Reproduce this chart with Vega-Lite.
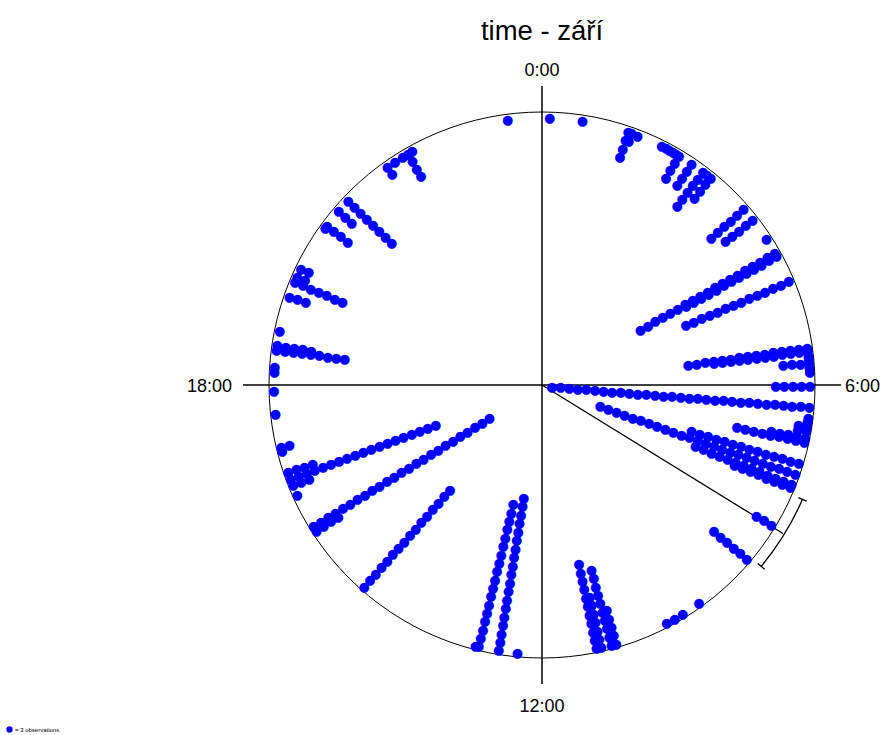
{
  "$schema": "https://vega.github.io/schema/vega-lite/v6.json",
  "width": 600,
  "height": 600,
  "autosize": {"type": "none"},
  "padding": {"left": 242, "top": 85, "right": 45, "bottom": 50},
  "background": "white",
  "title": {"text": "time - září", "fontSize": 27.5, "font": "Liberation Sans", "fontWeight": "normal", "anchor": "middle", "offset": 17, "color": "black"},
  "config": {"view": {"stroke": null}},
  "layer": [
    {
      "data": {"values": [{"a": 0, "b": 24}]},
      "mark": {"type": "arc", "filled": false, "stroke": "black", "strokeWidth": 1, "radius": 273},
      "encoding": {
        "theta": {"field": "a", "type": "quantitative", "stack": null, "scale": {"type": "linear", "domain": [0, 24], "range": [0, 6.283185307179586], "zero": false}},
        "theta2": {"field": "b"}
      }
    },
    {
      "data": {"values": [{"h": 0}, {"h": 6}, {"h": 12}, {"h": 18}]},
      "mark": {"type": "arc", "filled": false, "stroke": "black", "strokeWidth": 1, "radius": 299, "radius2": 0},
      "encoding": {
        "theta": {"field": "h", "type": "quantitative", "stack": null, "scale": {"type": "linear", "domain": [0, 24], "range": [0, 6.283185307179586], "zero": false}},
        "theta2": {"field": "h"}
      }
    },
    {
      "data": {"values": [{"mean": 8.11}]},
      "mark": {"type": "arc", "filled": false, "stroke": "black", "strokeWidth": 1.3, "radius": 283, "radius2": 0},
      "encoding": {
        "theta": {"field": "mean", "type": "quantitative", "stack": null, "scale": {"type": "linear", "domain": [0, 24], "range": [0, 6.283185307179586], "zero": false}},
        "theta2": {"field": "mean"}
      }
    },
    {
      "data": {"values": [{"lo": 7.58, "hi": 8.64}]},
      "mark": {"type": "arc", "filled": false, "stroke": "black", "strokeWidth": 1.3, "radius": 284.5, "radius2": 284.5},
      "encoding": {
        "theta": {"field": "lo", "type": "quantitative", "stack": null, "scale": {"type": "linear", "domain": [0, 24], "range": [0, 6.283185307179586], "zero": false}},
        "theta2": {"field": "hi"}
      }
    },
    {
      "data": {"values": [{"end": 7.58}, {"end": 8.64}]},
      "mark": {"type": "arc", "filled": false, "stroke": "black", "strokeWidth": 1.3, "radius": 289, "radius2": 280},
      "encoding": {
        "theta": {"field": "end", "type": "quantitative", "stack": null, "scale": {"type": "linear", "domain": [0, 24], "range": [0, 6.283185307179586], "zero": false}},
        "theta2": {"field": "end"}
      }
    },
    {
      "data": {"values": [{"lab": "0:00", "h": 0}, {"lab": "12:00", "h": 12}]},
      "mark": {"type": "text", "font": "Liberation Sans", "fontSize": 18, "align": "center", "baseline": "middle", "color": "black", "radius": 318, "dy": 4},
      "encoding": {
        "theta": {"field": "h", "type": "quantitative", "stack": null, "scale": {"type": "linear", "domain": [0, 24], "range": [0, 6.283185307179586], "zero": false}},
        "text": {"field": "lab"}
      }
    },
    {
      "data": {"values": [{"lab": "6:00", "h": 6}]},
      "mark": {"type": "text", "font": "Liberation Sans", "fontSize": 18, "align": "left", "baseline": "middle", "color": "black", "radius": 303, "dy": 1.5},
      "encoding": {
        "theta": {"field": "h", "type": "quantitative", "stack": null, "scale": {"type": "linear", "domain": [0, 24], "range": [0, 6.283185307179586], "zero": false}},
        "text": {"field": "lab"}
      }
    },
    {
      "data": {"values": [{"lab": "18:00", "h": 18}]},
      "mark": {"type": "text", "font": "Liberation Sans", "fontSize": 18, "align": "right", "baseline": "middle", "color": "black", "radius": 310, "dy": 1.5},
      "encoding": {
        "theta": {"field": "h", "type": "quantitative", "stack": null, "scale": {"type": "linear", "domain": [0, 24], "range": [0, 6.283185307179586], "zero": false}},
        "text": {"field": "lab"}
      }
    },
    {
      "data": {"values": [
        {"h":0.11},{"h":0.58},
        {"h":1.25},{"h":1.25},{"h":1.25},{"h":1.25},
        {"h":1.3},{"h":1.3},{"h":1.39},
        {"h":1.77},{"h":1.84},{"h":1.89},{"h":1.95},{"h":2.0},
        {"h":2.05},{"h":2.05},{"h":2.05},{"h":2.05},
        {"h":2.26},{"h":2.26},{"h":2.26},{"h":2.26},
        {"h":2.46},{"h":2.46},{"h":2.46},{"h":2.46},{"h":2.46},{"h":2.46},
        {"h":2.53},
        {"h":2.6},{"h":2.6},{"h":2.6},{"h":2.6},
        {"h":3.25},{"h":3.25},{"h":3.25},{"h":3.25},{"h":3.25},{"h":3.25},
        {"h":3.45},{"h":3.45},{"h":3.45},{"h":3.45},{"h":3.45},
        {"h":3.79},
        {"h":4.02},{"h":4.02},{"h":4.02},{"h":4.02},{"h":4.02},{"h":4.02},{"h":4.02},{"h":4.02},{"h":4.02},{"h":4.02},{"h":4.02},{"h":4.02},{"h":4.02},{"h":4.02},{"h":4.02},{"h":4.02},{"h":4.02},{"h":4.02},{"h":4.02},
        {"h":4.07},{"h":4.07},{"h":4.07},{"h":4.07},{"h":4.07},{"h":4.07},{"h":4.07},{"h":4.07},{"h":4.07},{"h":4.07},{"h":4.07},{"h":4.07},{"h":4.07},
        {"h":4.47},{"h":4.47},{"h":4.47},{"h":4.47},{"h":4.47},{"h":4.47},{"h":4.47},{"h":4.47},{"h":4.47},{"h":4.47},{"h":4.47},{"h":4.47},{"h":4.47},{"h":4.47},
        {"h":5.45},{"h":5.45},{"h":5.45},{"h":5.45},{"h":5.45},{"h":5.45},{"h":5.45},{"h":5.45},{"h":5.45},{"h":5.45},{"h":5.45},{"h":5.45},{"h":5.45},{"h":5.45},{"h":5.45},
        {"h":5.5},{"h":5.5},{"h":5.5},{"h":5.5},{"h":5.5},{"h":5.5},{"h":5.5},{"h":5.5},{"h":5.5},{"h":5.5},{"h":5.5},{"h":5.5},
        {"h":5.57},{"h":5.62},
        {"h":5.67},{"h":5.67},{"h":5.67},{"h":5.67},
        {"h":5.74},{"h":5.8},
        {"h":6.0},{"h":6.0},{"h":6.0},{"h":6.0},{"h":6.0},
        {"h":6.3},{"h":6.3},{"h":6.3},{"h":6.3},{"h":6.3},{"h":6.3},{"h":6.3},{"h":6.3},{"h":6.3},{"h":6.3},
        {"h":6.3},{"h":6.3},{"h":6.3},{"h":6.3},{"h":6.3},{"h":6.3},{"h":6.3},{"h":6.3},{"h":6.3},{"h":6.3},
        {"h":6.3},{"h":6.3},{"h":6.3},{"h":6.3},{"h":6.3},{"h":6.3},{"h":6.3},{"h":6.3},{"h":6.3},{"h":6.3},{"h":6.3},
        {"h":6.45},{"h":6.52},
        {"h":6.58},{"h":6.58},
        {"h":6.65},{"h":6.65},
        {"h":6.74},{"h":6.74},{"h":6.74},{"h":6.74},{"h":6.74},
        {"h":6.8},{"h":6.8},{"h":6.8},{"h":6.8},{"h":6.8},{"h":6.8},{"h":6.8},{"h":6.8},{"h":6.8},
        {"h":7.12},{"h":7.12},{"h":7.12},{"h":7.12},{"h":7.12},{"h":7.12},{"h":7.12},{"h":7.12},{"h":7.12},{"h":7.12},{"h":7.12},{"h":7.12},{"h":7.12},{"h":7.12},
        {"h":7.28},{"h":7.28},{"h":7.28},{"h":7.28},{"h":7.28},{"h":7.28},{"h":7.28},{"h":7.28},{"h":7.28},{"h":7.28},
        {"h":7.28},{"h":7.28},{"h":7.28},{"h":7.28},{"h":7.28},{"h":7.28},{"h":7.28},{"h":7.28},{"h":7.28},{"h":7.28},
        {"h":7.28},{"h":7.28},{"h":7.28},{"h":7.28},{"h":7.28},
        {"h":7.43},{"h":7.43},{"h":7.43},{"h":7.43},{"h":7.43},{"h":7.43},{"h":7.43},{"h":7.43},{"h":7.43},{"h":7.43},{"h":7.43},{"h":7.43},{"h":7.43},
        {"h":7.48},{"h":7.48},{"h":7.48},{"h":7.48},{"h":7.48},{"h":7.48},{"h":7.48},{"h":7.48},
        {"h":8.08},{"h":8.08},{"h":8.08},
        {"h":8.68},{"h":8.68},{"h":8.68},{"h":8.68},{"h":8.68},{"h":8.68},
        {"h":9.61},{"h":9.89},{"h":10.02},{"h":10.15},
        {"h":10.93},{"h":10.93},{"h":10.93},{"h":10.93},{"h":10.93},
        {"h":11.0},{"h":11.0},{"h":11.0},{"h":11.0},{"h":11.0},{"h":11.0},{"h":11.0},{"h":11.0},{"h":11.0},{"h":11.0},
        {"h":11.15},{"h":11.15},{"h":11.15},{"h":11.15},{"h":11.15},{"h":11.15},{"h":11.15},
        {"h":11.22},{"h":11.22},{"h":11.22},{"h":11.22},{"h":11.22},{"h":11.22},{"h":11.22},{"h":11.22},{"h":11.22},{"h":11.22},{"h":11.22},
        {"h":12.35},
        {"h":12.62},{"h":12.62},{"h":12.62},{"h":12.62},{"h":12.62},{"h":12.62},{"h":12.62},{"h":12.62},{"h":12.62},{"h":12.62},
        {"h":12.62},{"h":12.62},{"h":12.62},{"h":12.62},{"h":12.62},{"h":12.62},{"h":12.62},{"h":12.62},{"h":12.62},
        {"h":12.91},{"h":12.91},{"h":12.91},{"h":12.91},{"h":12.91},{"h":12.91},{"h":12.91},{"h":12.91},{"h":12.91},
        {"h":12.91},{"h":12.91},{"h":12.91},{"h":12.91},{"h":12.91},{"h":12.91},{"h":12.91},{"h":12.91},{"h":12.91},
        {"h":12.96},
        {"h":14.77},{"h":14.77},{"h":14.77},{"h":14.77},{"h":14.77},{"h":14.77},{"h":14.77},{"h":14.77},
        {"h":14.77},{"h":14.77},{"h":14.77},{"h":14.77},{"h":14.77},{"h":14.77},{"h":14.77},{"h":14.77},
        {"h":15.82},{"h":15.82},{"h":15.82},{"h":15.82},
        {"h":15.9},{"h":15.9},{"h":15.9},{"h":15.9},{"h":15.9},{"h":15.9},{"h":15.9},{"h":15.9},{"h":15.9},{"h":15.9},
        {"h":15.9},{"h":15.9},{"h":15.9},{"h":15.9},{"h":15.9},{"h":15.9},{"h":15.9},{"h":15.9},{"h":15.9},{"h":15.9},
        {"h":15.9},{"h":15.9},{"h":15.9},{"h":15.9},{"h":15.9},
        {"h":16.4},
        {"h":16.55},{"h":16.55},{"h":16.55},
        {"h":16.65},{"h":16.65},{"h":16.65},{"h":16.65},{"h":16.65},{"h":16.65},{"h":16.65},{"h":16.65},{"h":16.65},{"h":16.65},
        {"h":16.65},{"h":16.65},{"h":16.65},{"h":16.65},{"h":16.65},{"h":16.65},{"h":16.65},{"h":16.65},{"h":16.65},
        {"h":16.75},{"h":16.75},{"h":16.75},{"h":16.75},
        {"h":17.06},{"h":17.12},{"h":17.12},
        {"h":17.6},{"h":17.93},{"h":18.2},{"h":18.27},
        {"h":18.52},{"h":18.52},{"h":18.52},{"h":18.52},{"h":18.52},{"h":18.52},{"h":18.52},{"h":18.52},{"h":18.52},
        {"h":18.58},{"h":18.58},{"h":18.58},{"h":18.58},{"h":18.58},
        {"h":18.79},
        {"h":19.3},{"h":19.3},{"h":19.3},
        {"h":19.52},{"h":19.52},{"h":19.52},{"h":19.52},{"h":19.52},{"h":19.52},{"h":19.52},
        {"h":19.6},{"h":19.6},
        {"h":19.73},{"h":19.73},
        {"h":20.4},
        {"h":20.44},{"h":20.44},{"h":20.44},{"h":20.44},
        {"h":20.71},{"h":20.71},{"h":20.71},
        {"h":20.91},{"h":20.91},{"h":20.91},{"h":20.91},{"h":20.91},{"h":20.91},{"h":20.91},{"h":20.91},
        {"h":21.65},{"h":21.65},
        {"h":21.78},{"h":21.91},
        {"h":22.0},{"h":22.0},{"h":22.0},{"h":22.0},
        {"h":22.07},
        {"h":23.51}
      ]},
      "transform": [{"window": [{"op": "row_number", "as": "k"}], "groupby": ["h"]}],
      "mark": {"type": "text", "text": "●", "font": "DejaVu Sans", "fontSize": 13, "align": "center", "baseline": "middle", "dy": 1},
      "encoding": {
        "theta": {"field": "h", "type": "quantitative", "stack": null, "scale": {"type": "linear", "domain": [0, 24], "range": [0, 6.283185307179586], "zero": false}},
        "radius": {"field": "k", "type": "quantitative", "scale": {"type": "linear", "domain": [1, 31], "range": [268, 10], "zero": false}},
        "color": {
          "datum": "= 3 observations",
          "type": "nominal",
          "scale": {"range": ["#0000ff"]},
          "legend": {"orient": "none", "legendX": -236, "legendY": 641, "title": null, "padding": 0, "labelFontSize": 6, "labelFont": "Liberation Sans", "labelColor": "black", "labelOffset": 2, "symbolType": "circle", "symbolSize": 40, "symbolFillColor": "#0000ff", "symbolStrokeColor": "#0000ff", "symbolStrokeWidth": 0}
        }
      }
    }
  ]
}
